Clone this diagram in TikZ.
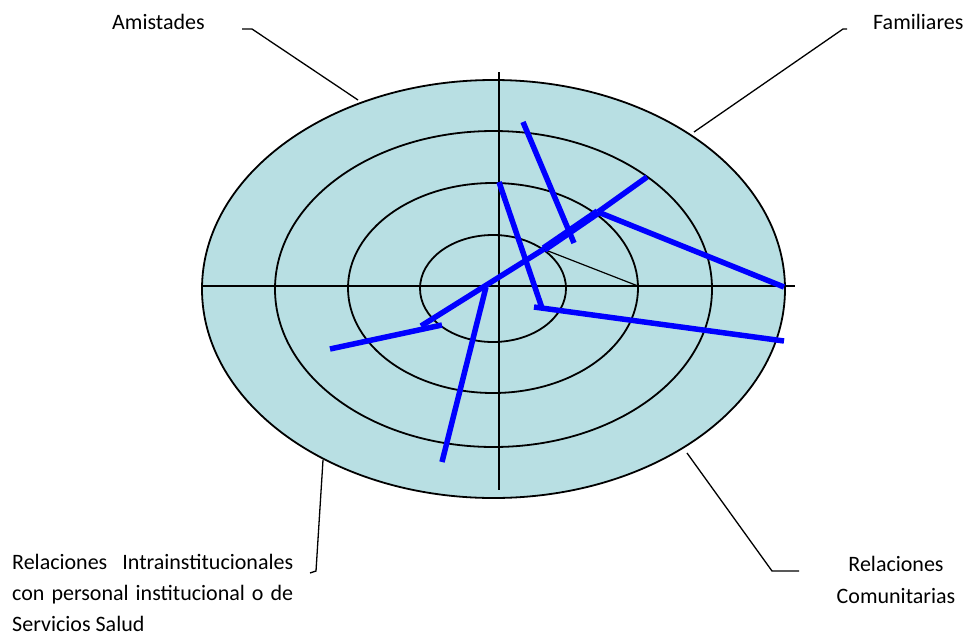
\documentclass[tikz,border=0pt]{standalone}
\usepackage{fontspec}
\setmainfont{Carlito}
\definecolor{ringfill}{RGB}{184,223,227}
\definecolor{tieblue}{RGB}{0,0,255}
\begin{document}
\begin{tikzpicture}[x=1pt,y=-1pt,
  ring/.style={draw=black,line width=1.8pt},
  axis/.style={draw=black,line width=1.6pt},
  leader/.style={draw=black,line width=1.3pt},
  tie/.style={draw=tieblue,line width=5.5pt},
  tiethick/.style={draw=tieblue,line width=8pt},
  lbl/.style={inner sep=0pt,font=\fontsize{22}{31}\selectfont}]
\useasboundingbox (0,0) rectangle (971,635);
% rings
\path[ring,fill=ringfill] (493.5,289) ellipse [x radius=291.5pt, y radius=209pt];
\path[ring] (493.5,289) ellipse [x radius=218.5pt, y radius=158pt];
\path[ring] (493,288) ellipse [x radius=145pt, y radius=105pt];
\path[ring] (493,288.5) ellipse [x radius=73pt, y radius=53.5pt];
% axes
\coordinate (vtop) at (499,72);
\coordinate (vbot) at (499,490);
\coordinate (hl) at (202,286);
\coordinate (hr) at (795,286);
\draw[axis] (vtop) -- (vbot);
\draw[axis] (hl) -- (hr);
\coordinate (p1) at (543,249);
\coordinate (p2) at (638,286);
\draw[line width=1.2pt] (p1) -- (p2);
% blue ties
\coordinate (a1) at (523,122); \coordinate (a2) at (574,243);
\draw[tie] (a1) -- (a2);
\coordinate (b1) at (421,326); \coordinate (b2) at (544,249);
\coordinate (b3) at (598,212); \coordinate (b4) at (647,177);
\draw[tie] (b1) -- (b2);
\draw[tiethick] (b2) -- (b3);
\draw[tie] (b3) -- (b4);
\coordinate (c2) at (784,287);
\draw[tie] (b3) -- (c2);
\coordinate (d1) at (499,182); \coordinate (d2) at (542,308);
\draw[tie] (d1) -- (d2);
\coordinate (e1) at (534,307); \coordinate (e2) at (784,341);
\draw[tie] (e1) -- (e2);
\coordinate (f1) at (486,287); \coordinate (f2) at (442,462);
\draw[tie] (f1) -- (f2);
\coordinate (g1) at (330,349); \coordinate (g2) at (442,325);
\draw[tie] (g1) -- (g2);
% labels
\node[lbl,anchor=base west] (amis) at (112,29) {Amistades};
\node[lbl,anchor=base west] (fam) at (873,29) {Familiares};
\node[lbl,anchor=base] (com) at (896,571) {\vtop{\hsize=200pt\baselineskip=32pt\centering Relaciones\\Comunitarias\par}};
\node[lbl,anchor=base west] (intra) at (12,569) {\vtop{\baselineskip=31pt
  \hbox to 281pt{Relaciones\hfill Intrainstitucionales}
  \hbox to 281pt{con\hfil personal\hfil institucional\hfil o\hfil de}
  \hbox{Servicios Salud}}};
% leaders
\coordinate (la1) at (242,29); \coordinate (la2) at (252,29); \coordinate (la3) at (358,100);
\draw[leader] (la1) -- (la2) -- (la3);
\coordinate (lf1) at (847,29); \coordinate (lf2) at (843,29); \coordinate (lf3) at (694,132);
\draw[leader] (lf1) -- (lf2) -- (lf3);
\coordinate (lc1) at (687,453); \coordinate (lc2) at (772,571); \coordinate (lc3) at (799,571);
\draw[leader] (lc1) -- (lc2) -- (lc3);
\coordinate (li1) at (323,460); \coordinate (li2) at (316,571); \coordinate (li3) at (310,573);
\draw[leader] (li1) -- (li2) -- (li3);
\end{tikzpicture}
\end{document}
